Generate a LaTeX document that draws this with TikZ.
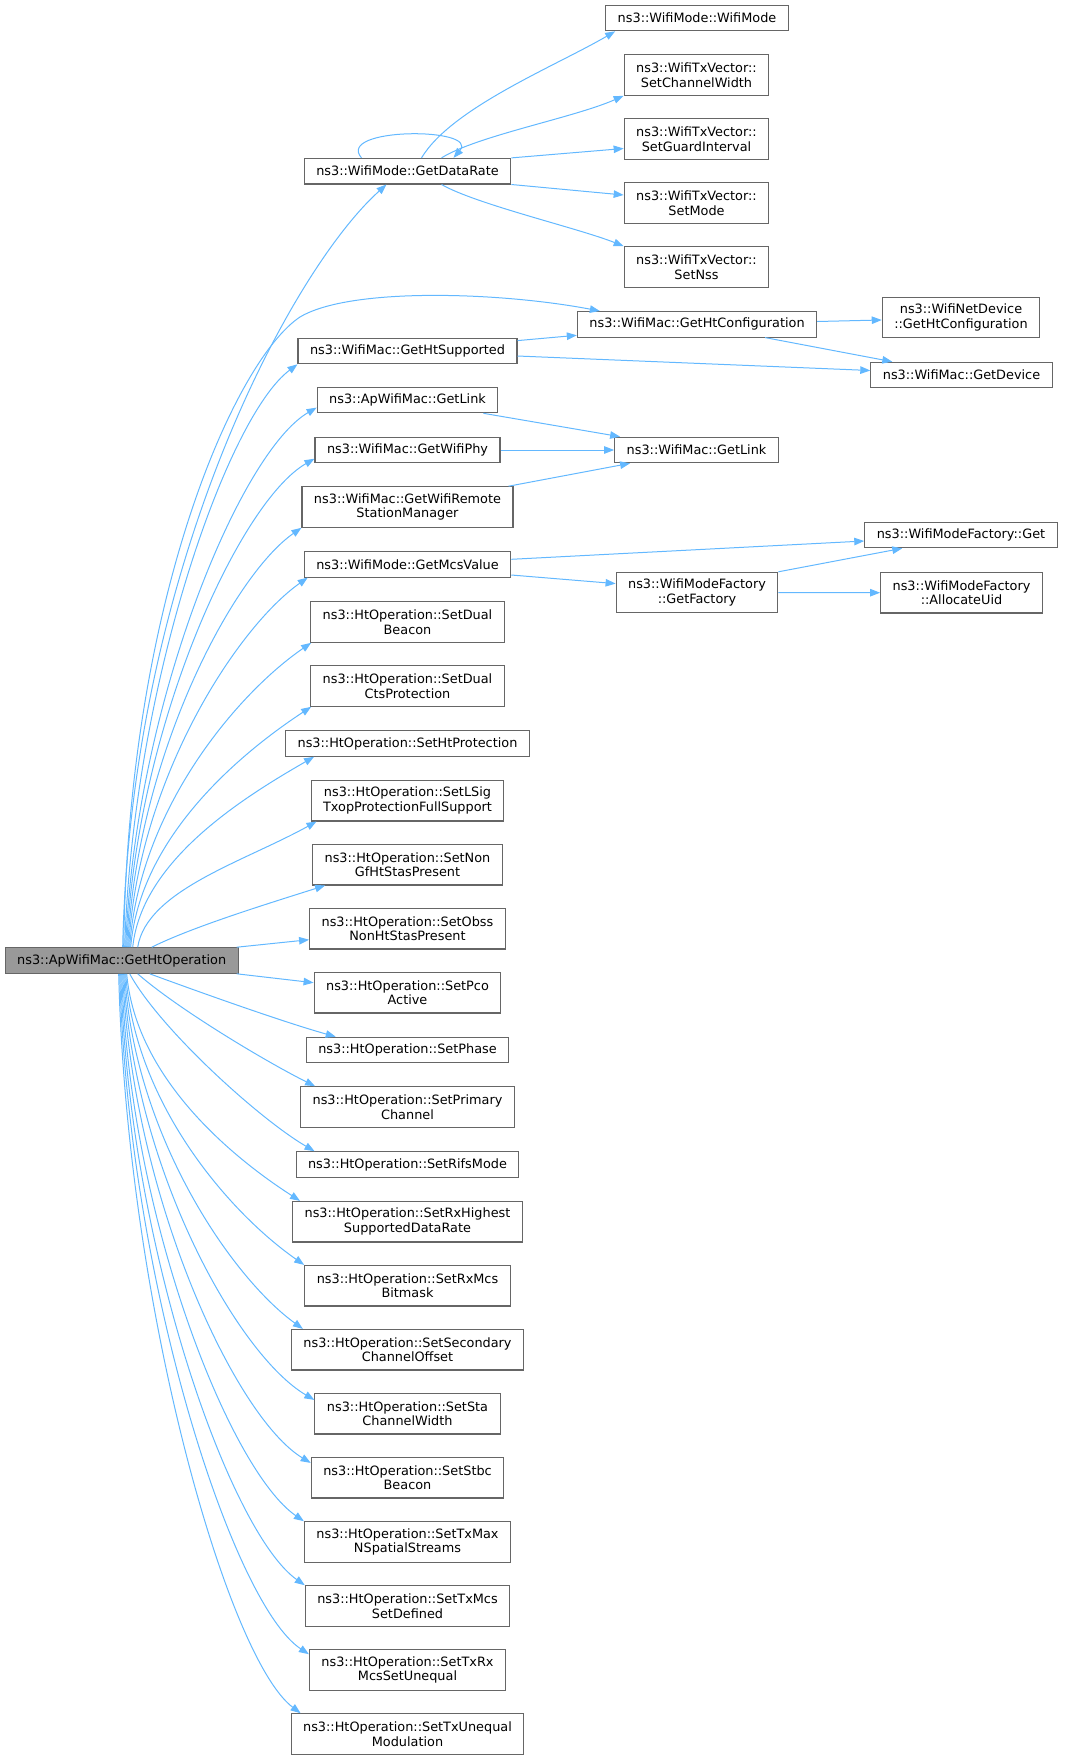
\documentclass[tikz,border=0pt]{standalone}
\usepackage{fontspec}
\setmainfont{DejaVu Sans}
\usetikzlibrary{arrows.meta}
\definecolor{nodeborder}{HTML}{666666}
\definecolor{mainfill}{HTML}{999999}
\definecolor{edgeblue}{HTML}{63B8FF}
\tikzset{
  fn/.style={draw=nodeborder, fill=white, line width=1.1bp, inner xsep=12bp, inner ysep=0pt,
    align=center, font=\fontsize{12.85bp}{14.7bp}\selectfont, minimum height=25.5bp},
  fn2/.style={fn, minimum height=40.5bp},
  mainfn/.style={fn, fill=mainfill},
  edge/.style={draw=edgeblue, line width=1bp, -{Triangle[length=10bp,width=7.5bp]}}
}
\begin{document}
\begin{tikzpicture}[x=1bp, y=-1bp]
\useasboundingbox (0,0) rectangle (1064,1759);
% right column
\node[fn]  (wm)   at (697,18)    {ns3::WifiMode::WifiMode};
\node[fn2] (scw)  at (696.5,75)  {ns3::WifiTxVector::\\SetChannelWidth};
\node[fn2] (sgi)  at (696.5,139) {ns3::WifiTxVector::\\SetGuardInterval};
\node[fn2] (sm)   at (696.5,203) {ns3::WifiTxVector::\\SetMode};
\node[fn2] (sn)   at (696.5,267) {ns3::WifiTxVector::\\SetNss};
\node[fn]  (ghc)  at (697,324.3) {ns3::WifiMac::GetHtConfiguration};
\node[fn]  (wgl)  at (696.5,450) {ns3::WifiMac::GetLink};
\node[fn2] (gf)   at (697,592.6) {ns3::WifiModeFactory\\::GetFactory};
% far right
\node[fn2] (wnd)  at (961,317.5) {ns3::WifiNetDevice\\::GetHtConfiguration};
\node[fn]  (gd)   at (961.5,375) {ns3::WifiMac::GetDevice};
\node[fn]  (wmfg) at (961,535)   {ns3::WifiModeFactory::Get};
\node[fn2] (au)   at (961.5,592.7) {ns3::WifiModeFactory\\::AllocateUid};
% middle column
\node[fn]  (gdr)  at (407.5,171.2) {ns3::WifiMode::GetDataRate};
\node[fn]  (ghs)  at (407.5,351)   {ns3::WifiMac::GetHtSupported};
\node[fn]  (agl)  at (407.5,400)   {ns3::ApWifiMac::GetLink};
\node[fn]  (gwp)  at (407.5,450)   {ns3::WifiMac::GetWifiPhy};
\node[fn2] (gwr)  at (407.5,507)   {ns3::WifiMac::GetWifiRemote\\StationManager};
\node[fn]  (gmv)  at (407.5,564.3) {ns3::WifiMode::GetMcsValue};
\node[fn2] (db)   at (407.5,622)   {ns3::HtOperation::SetDual\\Beacon};
\node[fn2] (dc)   at (407.5,686)   {ns3::HtOperation::SetDual\\CtsProtection};
\node[fn]  (hp)   at (407.5,743.5) {ns3::HtOperation::SetHtProtection};
\node[fn2] (ls)   at (407.5,800.7) {ns3::HtOperation::SetLSig\\TxopProtectionFullSupport};
\node[fn2] (ng)   at (407.5,864.7) {ns3::HtOperation::SetNon\\GfHtStasPresent};
\node[fn2] (ob)   at (407.5,928.7) {ns3::HtOperation::SetObss\\NonHtStasPresent};
\node[fn2] (pc)   at (407.5,992.7) {ns3::HtOperation::SetPco\\Active};
\node[fn]  (ph)   at (407.5,1050)  {ns3::HtOperation::SetPhase};
\node[fn2] (pr)   at (407.5,1107)  {ns3::HtOperation::SetPrimary\\Channel};
\node[fn]  (rf)   at (407.5,1164.5) {ns3::HtOperation::SetRifsMode};
\node[fn2] (rh)   at (407.5,1221.7) {ns3::HtOperation::SetRxHighest\\SupportedDataRate};
\node[fn2] (rm)   at (407.5,1285.7) {ns3::HtOperation::SetRxMcs\\Bitmask};
\node[fn2] (sec)  at (407.5,1349.7) {ns3::HtOperation::SetSecondary\\ChannelOffset};
\node[fn2] (sta)  at (407.5,1413.7) {ns3::HtOperation::SetSta\\ChannelWidth};
\node[fn2] (stbc) at (407.5,1477.7) {ns3::HtOperation::SetStbc\\Beacon};
\node[fn2] (txmax) at (407.5,1542) {ns3::HtOperation::SetTxMax\\NSpatialStreams};
\node[fn2] (txmcs) at (407.5,1606) {ns3::HtOperation::SetTxMcs\\SetDefined};
\node[fn2] (txrx) at (407.5,1670)  {ns3::HtOperation::SetTxRx\\McsSetUnequal};
\node[fn2] (txu)  at (407.5,1734)  {ns3::HtOperation::SetTxUnequal\\Modulation};
% main
\node[mainfn] (m) at (121.7,960.5) {ns3::ApWifiMac::GetHtOperation};

% edges from main, upward
\draw[edge] ([xshift=1bp]m.north) .. controls +(8,-380) and +(-95,85) .. ([xshift=-21bp]gdr.south);
\draw[edge] ([xshift=2bp]m.north) .. controls (128,600) and (235,360) .. (300,317)
   .. controls (350,287) and (500,292) .. ([xshift=23bp]ghc.north west);
\draw[edge] ([xshift=3bp]m.north) .. controls +(8,-263) and +(-70,52) .. (ghs.south west);
\draw[edge] ([xshift=4bp]m.north) .. controls +(9,-243) and +(-76,44) .. ([yshift=-7.6bp]agl.west);
\draw[edge] ([xshift=5bp]m.north) .. controls +(9,-220) and +(-75,43) .. ([yshift=-8.7bp]gwp.west);
\draw[edge] ([xshift=6bp]m.north) .. controls +(9,-190) and +(-69,48) .. (gwr.south west);
\draw[edge] ([xshift=7bp]m.north) .. controls +(9,-167) and +(-71,50) .. ([xshift=4bp]gmv.south west);
\draw[edge] ([xshift=8bp]m.north) .. controls +(9,-138) and +(-73,50) .. ([xshift=1bp]db.south west);
\draw[edge] ([xshift=9bp]m.north) .. controls +(9,-109) and +(-73,48) .. ([xshift=1bp]dc.south west);
\draw[edge] ([xshift=11bp]m.north) .. controls +(9,-86) and +(-73,42) .. ([xshift=29bp]hp.south west);
\draw[edge] ([xshift=16bp]m.north) .. controls +(9,-57) and +(-72,40) .. ([xshift=6bp]ls.south west);
\draw[edge] ([xshift=30bp]m.north) .. controls +(40,-20) and +(-60,19) .. ([xshift=13bp]ng.south west);
\draw[edge] ([xshift=-2bp]m.north east) -- ([yshift=-11bp]ob.west);
\draw[edge] ([xshift=-2bp]m.south east) -- ([yshift=10bp]pc.west);
% downward
\draw[edge] ([xshift=28bp]m.south) .. controls +(60,22) and +(-50,-14) .. ([xshift=30bp]ph.north west);
\draw[edge] ([xshift=16bp]m.south) .. controls +(40,35) and +(-50,-25) .. ([xshift=15bp]pr.north west);
\draw[edge] ([xshift=8bp]m.south) .. controls +(30,55) and +(-55,-32) .. ([xshift=19bp]rf.north west);
\draw[edge] ([xshift=5bp]m.south) .. controls +(9,103) and +(-70,-45) .. ([xshift=8bp]rh.north west);
\draw[edge] ([xshift=4bp]m.south) .. controls +(9,132) and +(-72,-50) .. (rm.north west);
\draw[edge] ([xshift=3bp]m.south) .. controls +(9,160) and +(-72,-52) .. ([xshift=12bp]sec.north west);
\draw[edge] ([xshift=2bp]m.south) .. controls +(9,193) and +(-77,-45) .. ([yshift=-7bp]sta.north west);
\draw[edge] ([xshift=1bp]m.south) .. controls +(9,221) and +(-76,-46) .. ([yshift=-6bp]stbc.north west);
\draw[edge] ([xshift=0bp]m.south) .. controls +(8,247) and +(-73,-50) .. (txmax.north west);
\draw[edge] ([xshift=-1bp]m.south) .. controls +(8,276) and +(-74,-52) .. (txmcs.north west);
\draw[edge] ([xshift=-2bp]m.south) .. controls +(8,307) and +(-76,-50) .. ([yshift=-5bp]txrx.north west);
\draw[edge] ([xshift=-3bp]m.south) .. controls +(8,333) and +(-73,-55) .. ([xshift=10bp]txu.north west);

% GetDataRate edges
\draw[edge] ([xshift=14bp]gdr.north) .. controls +(30,-50) and +(-60,35) .. ([xshift=10bp]wm.south west);
\draw[edge] ([xshift=34bp]gdr.north) .. controls +(35,-22) and +(-50,22) .. (scw.south west);
\draw[edge] ([xshift=-46bp]gdr.north) .. controls (335,127) and (480,127) .. ([xshift=46bp]gdr.north);
\draw[edge] (gdr.north east) -- ([yshift=-9.5bp]sgi.west);
\draw[edge] (gdr.south east) -- ([yshift=8bp]sm.west);
\draw[edge] ([xshift=34bp]gdr.south) .. controls +(35,20) and +(-45,-18) .. (sn.north west);
% other edges
\draw[edge] ([yshift=10.4bp]ghs.east) -- ([yshift=-11bp]ghc.west);
\draw[edge] ([yshift=-5bp]ghs.east) -- ([yshift=4.5bp]gd.west);
\draw[edge] ([yshift=2.8bp]ghc.east) -- ([yshift=-2.5bp]wnd.west);
\draw[edge] ([xshift=-52bp]ghc.south east) -- ([xshift=22bp]gd.north west);
\draw[edge] ([xshift=-15bp]agl.south east) -- ([xshift=6bp]wgl.north west);
\draw[edge] (gwp.east) -- (wgl.west);
\draw[edge] ([xshift=-5bp]gwr.north east) -- ([xshift=16bp]wgl.south west);
\draw[edge] ([yshift=5bp]gmv.east) -- ([yshift=-6bp]wmfg.west);
\draw[edge] ([yshift=-10.7bp]gmv.east) -- ([yshift=9bp]gf.west);
\draw[edge] (gf.north east) -- ([xshift=38bp]wmfg.south west);
\draw[edge] (gf.east) -- (au.west);
\end{tikzpicture}
\end{document}
